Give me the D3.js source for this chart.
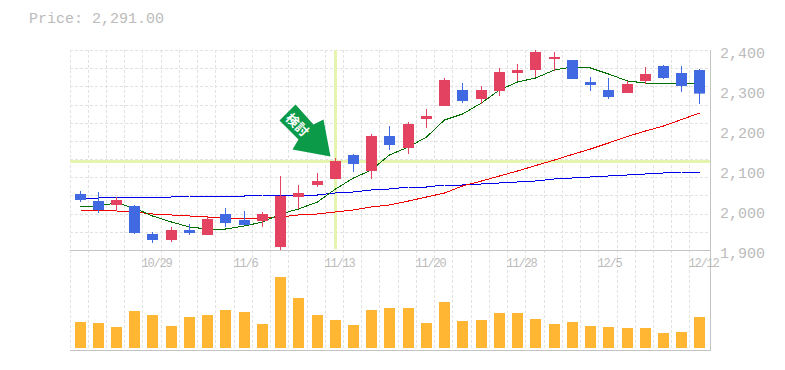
<!DOCTYPE html>
<html><head><meta charset="utf-8">
<style>html,body{margin:0;background:#fff}svg{display:block}text{font-family:"Liberation Mono",monospace;fill:#bbb}</style>
<script src="https://cdn.jsdelivr.net/npm/d3@7"></script></head><body><svg id="c" width="785" height="370"></svg>
<script>
const titleText="Price: 2,291.00";
const opens =[2040,2022.5,2012.5,2010,1940,1925,1950,1937.5,1990,1975,1972.5,1907.5,2032.5,2062.5,2077.5,2137.5,2097.5,2185,2155,2227.5,2260,2300,2277.5,2297.5,2342.5,2350,2377.5,2375,2320,2300,2292.5,2322.5,2360,2342.5,2350];
const closes=[2025,2000,2025,1942.5,1925,1950,1942.5,1977.5,1967.5,1962.5,1990,2035,2042.5,2072.5,2122.5,2115,2185,2162.5,2215,2235,2325,2272.5,2300,2345,2350,2395,2382.5,2327.5,2312.5,2282.5,2315,2340,2330,2310,2291];
const highs =[2047.5,2045,2032.5,2012.5,1945,1957.5,1965,1982.5,2005,1997.5,1995,2085,2062.5,2092.5,2130,2140,2190,2210,2220,2252.5,2330,2317.5,2310,2355,2365,2400,2395,2375,2332.5,2330,2322.5,2357.5,2362.5,2360,2352.5];
const lows  =[2020,1992.5,1997.5,1940,1917.5,1920,1937.5,1937.5,1957.5,1962.5,1957.5,1900,2002.5,2057.5,2077.5,2095,2077.5,2150,2140,2205,2260,2267.5,2265,2285,2322.5,2332.5,2347.5,2327.5,2297.5,2277.5,2292.5,2315,2327.5,2295,2265];
const volumes=[260,250,210,370,330,220,310,330,380,360,240,710,500,330,280,230,380,400,400,250,460,270,280,350,350,290,240,260,220,210,200,200,150,160,310];
const ma5 =[2007.5,2010,2017.5,2005,1985,1970,1957.5,1952.5,1952.5,1960,1970,1990,2002.5,2020,2052.5,2080,2100,2137.5,2157.5,2182.5,2225,2240,2267.5,2300,2320,2330,2350,2357.5,2355,2340,2322.5,2317.5,2317.5,2317.5,2317.5];
const ma25=[2000,2000,1997.5,1995,1990,1987.5,1985,1982.5,1980,1980,1980,1982.5,1987.5,1990,1995,2000,2007.5,2012.5,2022.5,2032.5,2042.5,2060,2072.5,2085,2097.5,2111,2125,2139,2152.5,2167.5,2184,2197.5,2210,2226,2242.5];
const ma75=[2027.5,2030,2032.5,2032.5,2032.5,2032.5,2035,2035,2035,2035,2037.5,2037.5,2037.5,2037.5,2042.5,2045,2050,2052.5,2057.5,2057.5,2062.5,2062.5,2065,2067.5,2070,2072.5,2077.5,2080,2082.5,2085,2087.5,2090,2092.5,2095,2095];
const xTickIdx=[4,9,14,19,24,29,34];
const xTickLabels=["10/29","11/6","11/13","11/20","11/28","12/5","12/12"];
const yTicks=[2400,2300,2200,2100,2000,1900];
const signalIndex=14, signalPrice=2123.5, arrowLabel="検討";

const idx=d3.range(opens.length);
const svg=d3.select("#c");
const x=d3.scaleBand().domain(idx).range([71.38,709.6]);
const left=i=>Math.floor(x(i)+3.62);
const center=i=>left(i)+5.5;
const y=d3.scaleLinear().domain([1900,2400]).range([250,50]);
const v=d3.scaleLinear().domain([0,1000]).range([348,248]);
const C={grid:"#e2e2e2",axis:"#c4c4c4",red:"#e34360",blue:"#4169e1",vol:"#ffb733",hi:"#e5f5b0"};

// grid
const g=svg.append("g").attr("stroke",C.grid).attr("stroke-dasharray","3,2").attr("fill","none");
g.selectAll(".gv").data(idx).join("line").attr("x1",i=>left(i)-4.5).attr("x2",i=>left(i)-4.5).attr("y1",50).attr("y2",350);
const gy=d3.scaleLinear().domain([0,11]).range([50.5,250.5]);
g.selectAll(".gh").data(d3.range(11)).join("line").attr("x1",70).attr("x2",710).attr("y1",d=>Math.floor(gy(d))+.5).attr("y2",d=>Math.floor(gy(d))+.5);

// highlight
svg.append("line").attr("x1",70).attr("x2",710).attr("y1",y(signalPrice)+1).attr("y2",y(signalPrice)+1).attr("stroke",C.hi).attr("stroke-width",3);
svg.append("line").attr("x1",center(signalIndex)).attr("x2",center(signalIndex)).attr("y1",50).attr("y2",249).attr("stroke",C.hi).attr("stroke-width",3);

// frame
const f=svg.append("g").attr("stroke",C.axis).attr("fill","none");
f.append("line").attr("x1",70).attr("x2",710.5).attr("y1",250.5).attr("y2",250.5);
f.append("line").attr("x1",70).attr("x2",710.5).attr("y1",350.5).attr("y2",350.5);
f.append("line").attr("x1",710.5).attr("x2",710.5).attr("y1",50).attr("y2",351);

// moving averages
const line=a=>d3.line().x((d,i)=>center(i)).y(d=>y(d))(a);
[[ma75,"#0000e8"],[ma25,"#f00000"],[ma5,"#007000"]].forEach(([a,c])=>svg.append("path").attr("d",line(a)).attr("fill","none").attr("stroke",c).attr("stroke-width",1).attr("shape-rendering","crispEdges"));

// candles
const col=i=>closes[i]>=opens[i]?C.red:C.blue;
svg.append("g").selectAll("line").data(idx).join("line").attr("x1",center).attr("x2",center).attr("y1",i=>y(highs[i])).attr("y2",i=>y(lows[i])).attr("stroke",col).attr("stroke-width",1);
svg.append("g").selectAll("rect").data(idx).join("rect").attr("x",left).attr("width",11)
 .attr("y",i=>y(Math.max(opens[i],closes[i]))).attr("height",i=>Math.abs(y(opens[i])-y(closes[i]))).attr("fill",col);

// volume
svg.append("g").selectAll("rect").data(idx).join("rect").attr("x",left).attr("width",11).attr("y",i=>v(volumes[i])).attr("height",i=>348-v(volumes[i])).attr("fill",C.vol);

// arrow
const tip=[center(signalIndex)-5,y(signalPrice)-4];
const arrowShape=[[0,0],[-7,-37],[-17,-32],[-35,-52],[-51,-36],[-32,-17],[-38,-7]];
svg.append("path").attr("d","M"+arrowShape.map(p=>[tip[0]+p[0],tip[1]+p[1]].join(",")).join("L")+"Z").attr("fill","#0a9a48");
svg.append("text").attr("transform",`translate(${tip[0]-33},${tip[1]-32}) rotate(45)`).attr("text-anchor","middle").attr("y",5)
 .style("font-family","'Noto Sans CJK JP'").style("font-size","13px").style("font-weight","700").style("fill","#fff").text(arrowLabel);

// axes
const ya=d3.axisRight(y).tickValues(yTicks).tickFormat(d3.format(",")).tickSize(0).tickPadding(10);
const yg=svg.append("g").attr("transform","translate(710,0)").call(ya);
yg.select(".domain").remove();
yg.selectAll("text").attr("dy",7).style("font-size","15px").style("font-family","'Liberation Mono'");
const xa=d3.axisBottom(d3.scalePoint().domain(xTickIdx).range([center(4),center(34)])).tickSize(0);
const xg=svg.append("g").attr("transform","translate(0,250)").call(xa);
xg.select(".domain").remove();
xg.selectAll(".tick").attr("transform",(d,i)=>`translate(${center(d)-11},0)`);
xg.selectAll("text").text((d,i)=>xTickLabels[i]).attr("text-anchor","start").attr("x",0).attr("y",17).attr("dy",0).style("font-size","12px").style("letter-spacing","-1.2px").style("font-family","'Liberation Mono'");

svg.append("text").attr("x",29).attr("y",23).style("font-size","15px").text(titleText);
</script></body></html>
